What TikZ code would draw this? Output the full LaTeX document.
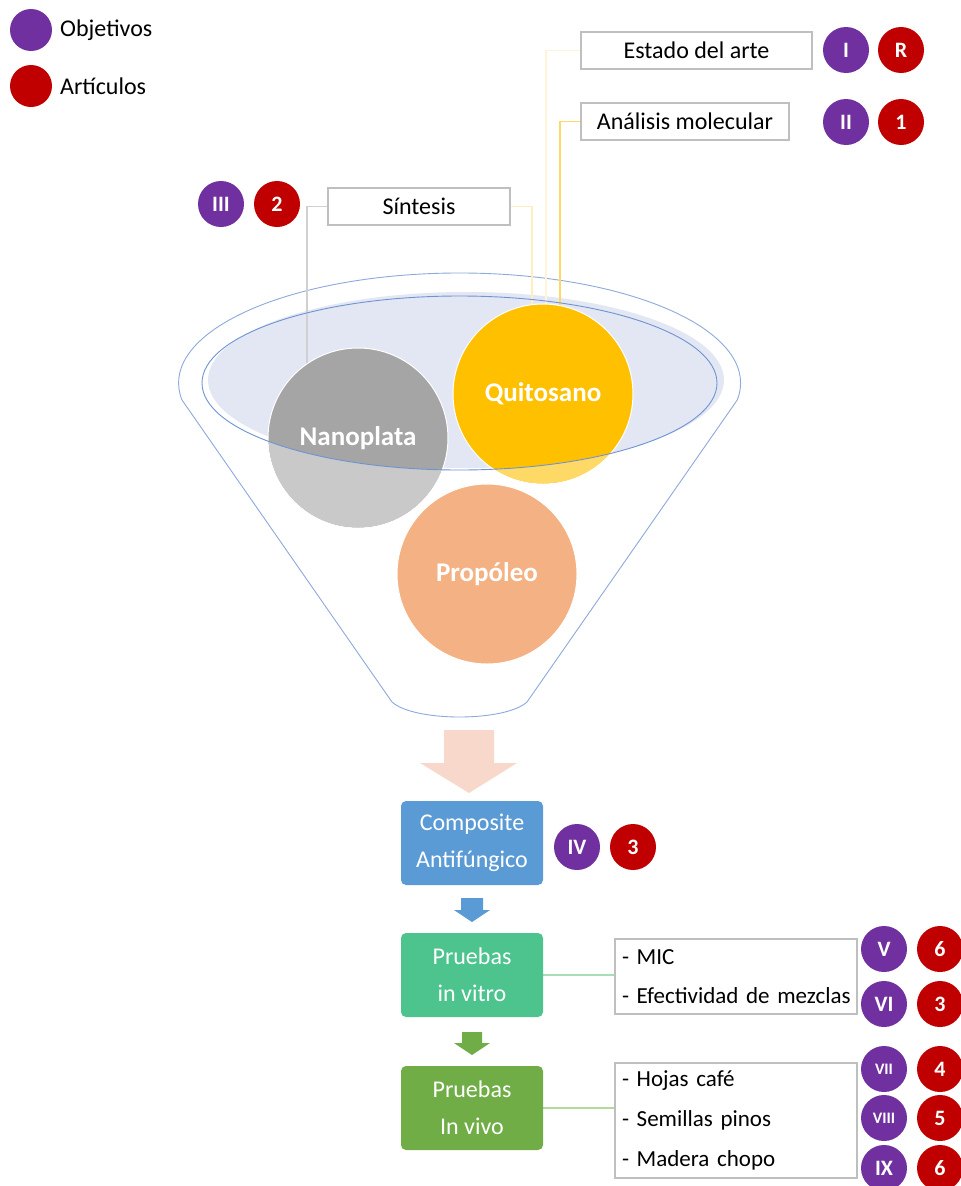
\documentclass[tikz,border=0pt]{standalone}
\usepackage{fontspec}
\setmainfont{Carlito}
\usetikzlibrary{calc}
\pgfdeclarelayer{back}
\pgfdeclarelayer{wires}
\pgfdeclarelayer{front}
\pgfsetlayers{back,wires,main,front}

\definecolor{objpurple}{HTML}{7030A0}
\definecolor{artred}{HTML}{C00000}
\definecolor{boxgray}{HTML}{BFBFBF}
\definecolor{rimblue}{HTML}{8EA9DB}
\definecolor{rimdark}{HTML}{6F93D2}
\definecolor{bowlfill}{HTML}{E2E7F3}
\definecolor{nanodark}{HTML}{A5A5A5}
\definecolor{nanolight}{HTML}{C9C9C9}
\definecolor{quidark}{HTML}{FFC000}
\definecolor{quilight}{HTML}{FFD966}
\definecolor{propfill}{HTML}{F4B183}
\definecolor{pinkarrow}{HTML}{F9D8CC}
\definecolor{compblue}{HTML}{5B9BD5}
\definecolor{vitrogreen}{HTML}{4DC48E}
\definecolor{vivogreen}{HTML}{70AD47}
\definecolor{wiregray}{HTML}{D0D0D0}
\definecolor{wirepale}{HTML}{FFEFC0}
\definecolor{wirepaler}{HTML}{FFF4DA}
\definecolor{wiregold}{HTML}{FFD966}
\definecolor{wiremint}{HTML}{A8DDB9}
\definecolor{wireolive}{HTML}{B5D89C}

\newcommand\setfs[1]{\fontsize{#1}{#1}\selectfont}

\tikzset{
  badge/.style={circle, minimum size=46pt, inner sep=0pt, text=white, font=\setfs{22}\bfseries},
  obj/.style={badge, fill=objpurple},
  art/.style={badge, fill=artred},
  tinylabel/.style={font=\setfs{16}\bfseries},
  tagbox/.style={draw=boxgray, line width=1.5pt, fill=white, minimum height=37pt, inner sep=0pt, font=\setfs{24}},
  ball/.style={circle, minimum size=180pt, inner sep=0pt, draw=white, line width=1pt, text=white, font=\setfs{27}\bfseries},
  stepbox/.style={rounded corners=5pt, minimum width=142pt, minimum height=84pt, inner sep=0pt, text=white, align=center, font=\fontsize{24}{37}\selectfont},
  listbox/.style={draw=boxgray, line width=1.5pt, fill=white, text width=228pt, inner xsep=7pt, inner ysep=0pt, align=left},
  wire/.style={line width=1.3pt},
  rim/.style={draw=rimblue, line width=0.9pt},
}

\begin{document}
\begin{tikzpicture}[x=1pt, y=-1pt]
\useasboundingbox (0,0) rectangle (961,1186);

% legend
\node[obj, minimum size=42pt] (legobj) at (31,30) {};
\node[art, minimum size=42pt] (legart) at (31,86) {};
\node[anchor=west, inner sep=0pt, font=\setfs{24}] (legobjtxt) at (60,30) {Objetivos};
\node[anchor=west, inner sep=0pt, font=\setfs{24}] (legarttxt) at (60,86) {Artículos};

% funnel body and bowl
\begin{pgfonlayer}{back}
  \filldraw[rim, fill=white] (182,400)
    arc[start angle=171.1, end angle=368.9, x radius=281, y radius=110]
    -- (527,702) .. controls (505,722) and (414,722) .. (392,702) -- cycle;
  \fill[bowlfill] (466,380) ellipse [x radius=258, y radius=88];
\end{pgfonlayer}

% ingredients
\node[ball, fill=nanodark] (nano) at (358,438) {Nanoplata};
\node[ball, fill=quidark] (quito) at (543,394) {Quitosano};
\node[ball, fill=propfill] (prop) at (487,574) {Propóleo};

% parts of the balls below the bowl rim are paler
\begin{scope}
  \clip (nano.center) circle (89.5);
  \fill[nanolight, even odd rule] (0,0) rectangle (961,1186)
    (459.5,383) ellipse [x radius=257.5, y radius=87];
\end{scope}
\begin{scope}
  \clip (quito.center) circle (89.5);
  \fill[quilight, even odd rule] (0,0) rectangle (961,1186)
    (459.5,383) ellipse [x radius=257.5, y radius=87];
\end{scope}

\begin{pgfonlayer}{front}
  \draw[draw=rimdark, line width=0.9pt] (459.5,383) ellipse [x radius=257.5, y radius=87];
\end{pgfonlayer}

% tags above the funnel
\node[tagbox, minimum width=231pt] (estado) at (696.5,50.5) {Estado del arte};
\node[tagbox, minimum width=208pt] (analisis) at (685,121.5) {Análisis molecular};
\node[tagbox, minimum width=182pt] (sintesis) at (419,206.5) {Síntesis};

\node[obj] (o1) at (846,50) {I};
\node[art] (aR) at (901,50) {R};
\node[obj] (o2) at (846,122) {II};
\node[art] (a1) at (901,122) {1};
\node[obj] (o3) at (221,204) {III};
\node[art] (a2) at (277,204) {2};

\begin{pgfonlayer}{wires}
  \draw[wire, wiregray] (sintesis.west) -| ($(nano.center)+(-51,0)$);
  \draw[wire, wirepale] (sintesis.east) -| ($(quito.center)+(-11,0)$);
  \draw[wire, wirepaler] (estado.west) -| ($(quito.center)+(3,0)$);
  \draw[wire, wiregold] (analisis.west) -| ($(quito.center)+(17,0)$);
\end{pgfonlayer}

% block arrows
\fill[pinkarrow] (444,730) -- (494,730) -- (494,763) -- (517,763) -- (469,793)
  -- (420,763) -- (444,763) -- cycle;
\fill[compblue] (461,898) -- (483,898) -- (483,910) -- (490,910) -- (472,922)
  -- (454,910) -- (461,910) -- cycle;
\fill[vivogreen] (462,1032) -- (482,1032) -- (482,1043) -- (490,1043) -- (472,1055)
  -- (454,1043) -- (462,1043) -- cycle;

% process steps
\node[stepbox, fill=compblue] (comp) at (472,843) {Composite\\Antifúngico};
\node[stepbox, fill=vitrogreen] (vitro) at (472,975) {Pruebas\\in vitro};
\node[stepbox, fill=vivogreen] (vivo) at (472,1108) {Pruebas\\In vivo};

\node[obj] (o4) at (577,847) {IV};
\node[art] (a3) at (633,847) {3};

% test lists
\node[listbox, minimum height=75pt, font=\fontsize{23}{39}\selectfont] (list1) at (736,976.5)
  {\mbox{- MIC}\\\mbox{- Efectividad de mezclas}};
\node[listbox, minimum height=115pt, font=\fontsize{23}{40}\selectfont] (list2) at (736,1120.5)
  {\mbox{- Hojas café}\\\mbox{- Semillas pinos}\\\mbox{- Madera chopo}};

\begin{pgfonlayer}{wires}
  \draw[wire, wiremint] (vitro.east) -- (vitro.east -| list1.west);
  \draw[wire, wireolive] (vivo.east) -- (vivo.east -| list2.west);
\end{pgfonlayer}

\node[obj] (o5) at (884,949) {V};
\node[art] (a6a) at (940,949) {6};
\node[obj] (o6) at (884,1004) {VI};
\node[art] (a3b) at (940,1004) {3};
\node[obj, tinylabel] (o7) at (884,1069) {VII};
\node[art] (a4) at (940,1069) {4};
\node[obj, tinylabel] (o8) at (884,1118) {VIII};
\node[art] (a5) at (940,1118) {5};
\node[obj] (o9) at (884,1168) {IX};
\node[art] (a6b) at (940,1168) {6};
\end{tikzpicture}
\end{document}
